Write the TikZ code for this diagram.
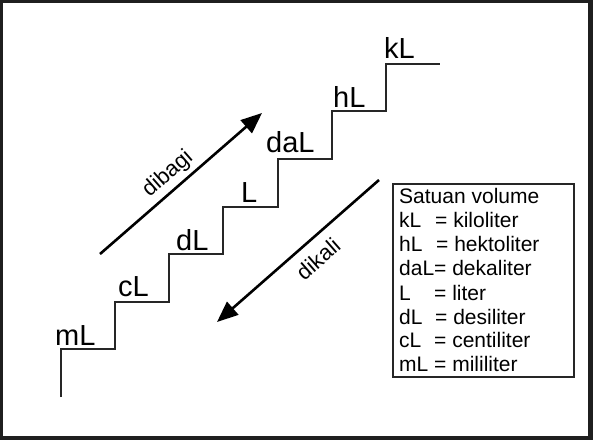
\documentclass[tikz,border=0pt]{standalone}
\usepackage{fontspec}
\setmainfont{Liberation Sans}
\usetikzlibrary{arrows.meta}
\begin{document}
\begin{tikzpicture}[x=1pt,y=-1pt,
  stairline/.style={line width=1.4pt, draw=black!85, line join=miter},
  steplabel/.style={anchor=base west, inner sep=0pt, font=\fontsize{29}{29}\selectfont},
  bigarrow/.style={line width=2.6pt, -{Triangle[length=21pt,width=17pt]}},
  arrowlabel/.style={inner sep=0pt, font=\fontsize{22}{22}\selectfont},
  legendline/.style={anchor=base west, inner sep=0pt, font=\fontsize{21}{21}\selectfont},
  legendbox/.style={draw=black!85, line width=1.2pt},
]
\useasboundingbox (0,0) rectangle (593,440);
\fill[black!88] (0,0) rectangle (593,440);
\fill[white] (3,3) rectangle (588,436);

% stairs
\coordinate (s0) at (61,397);
\coordinate (s1) at (61,349);
\coordinate (s2) at (115,349);
\coordinate (s3) at (115,302);
\coordinate (s4) at (169,302);
\coordinate (s5) at (169,254);
\coordinate (s6) at (223,254);
\coordinate (s7) at (223,207);
\coordinate (s8) at (278,207);
\coordinate (s9) at (278,159);
\coordinate (s10) at (332,159);
\coordinate (s11) at (332,111);
\coordinate (s12) at (386,111);
\coordinate (s13) at (386,64);
\coordinate (s14) at (440,64);
\draw[stairline] (s0) -- (s1) -- (s2) -- (s3) -- (s4) -- (s5) -- (s6) -- (s7)
  -- (s8) -- (s9) -- (s10) -- (s11) -- (s12) -- (s13) -- (s14);

\node[steplabel] (mL) at (55,345) {mL};
\node[steplabel] (cL) at (118,296) {cL};
\node[steplabel] (dL) at (176,250) {dL};
\node[steplabel] (L) at (241,202) {L};
\node[steplabel] (daL) at (266,152) {daL};
\node[steplabel] (hL) at (333,107) {hL};
\node[steplabel] (kL) at (384,58) {kL};

% arrows
\coordinate (up0) at (100,254);
\coordinate (up1) at (262,113);
\draw[bigarrow] (up0) -- (up1);
\node[arrowlabel, rotate=41.2] (dibagi) at (168,174) {dibagi};

\coordinate (dn0) at (379,180);
\coordinate (dn1) at (217,322);
\draw[bigarrow] (dn0) -- (dn1);
\node[arrowlabel, rotate=41.2] (dikali) at (318,259) {dikali};

% legend
\draw[legendbox] (393,184) rectangle (574,377);
\node[legendline] (t0) at (399,203) {Satuan volume};
\node[legendline] (t1) at (399,227) {\makebox[36pt][l]{kL}= kiloliter};
\node[legendline] (t2) at (399,251.5) {\makebox[37pt][l]{hL}= hektoliter};
\node[legendline] (t3) at (399,275.5) {daL= dekaliter};
\node[legendline] (t4) at (399,300) {\makebox[35pt][l]{L}= liter};
\node[legendline] (t5) at (399,324) {\makebox[36pt][l]{dL}= desiliter};
\node[legendline] (t6) at (399,347.5) {\makebox[35pt][l]{cL}= centiliter};
\node[legendline] (t7) at (399,371) {mL = mililiter};
\end{tikzpicture}
\end{document}
